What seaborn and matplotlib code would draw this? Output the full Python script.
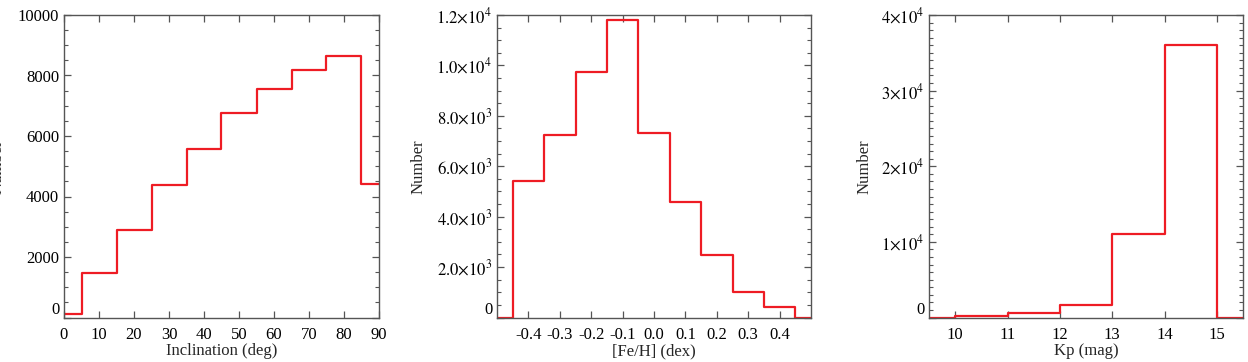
import numpy as np
import matplotlib
matplotlib.use("Agg")
import matplotlib.pyplot as plt
from matplotlib.ticker import FixedLocator, FixedFormatter, MultipleLocator
import pandas as pd
import seaborn as sns

# ---------------- data ----------------
incl_centers = [0, 10, 20, 30, 40, 50, 60, 70, 80, 90]
incl_counts = [100, 1480, 2900, 4380, 5580, 6750, 7550, 8180, 8650, 4400]

feh_centers = [-0.5, -0.4, -0.3, -0.2, -0.1, 0.0, 0.1, 0.2, 0.3, 0.4, 0.5]
feh_counts = [0, 5400, 7250, 9750, 11800, 7300, 4600, 2480, 1000, 400, 0]

kp_centers = [9.5, 10.5, 11.5, 12.5, 13.5, 14.5, 15.5]
kp_counts = [0, 250, 600, 1700, 11100, 36000, 0]

incl_xticks = [0, 10, 20, 30, 40, 50, 60, 70, 80, 90]
incl_yticks = [0, 2000, 4000, 6000, 8000, 10000]
incl_ylabels = ["0", "2000", "4000", "6000", "8000", "10000"]

feh_xticks = [-0.4, -0.3, -0.2, -0.1, 0.0, 0.1, 0.2, 0.3, 0.4]
feh_xlabels = ["-0.4", "-0.3", "-0.2", "-0.1", "0.0", "0.1", "0.2", "0.3", "0.4"]
feh_yticks = [0, 2000, 4000, 6000, 8000, 10000, 12000]
feh_ylabels = ["0", r"$2.0{\times}10^3$", r"$4.0{\times}10^3$", r"$6.0{\times}10^3$",
               r"$8.0{\times}10^3$", r"$1.0{\times}10^4$", r"$1.2{\times}10^4$"]

kp_xticks = [10, 11, 12, 13, 14, 15]
kp_yticks = [0, 10000, 20000, 30000, 40000]
kp_ylabels = ["0", r"$1{\times}10^4$", r"$2{\times}10^4$", r"$3{\times}10^4$", r"$4{\times}10^4$"]

# ---------------- style ----------------
sns.set_style("white")
plt.rcParams["font.family"] = ["Liberation Serif", "DejaVu Serif"]
plt.rcParams["mathtext.fontset"] = "stix"
plt.rcParams["axes.unicode_minus"] = False

LINE = "#ee1c24"
SPINE = "#555555"
FS = 12

fig = plt.figure(figsize=(12.48, 3.62), dpi=100)
W, H = 1248, 362
boxes = [(64, 379), (497, 811), (929, 1243)]
top_px, bot_px = 15, 317.5
axes = [fig.add_axes([l / W, (H - bot_px) / H, (r - l) / W, (bot_px - top_px) / H]) for l, r in boxes]


def edges_from(centers, width):
    c = np.asarray(centers, dtype=float)
    e = np.round(np.append(c - width / 2, c[-1] + width / 2), 6)
    return [float(v) for v in e]


def step_hist(ax, centers, counts, width):
    df = pd.DataFrame({"x": centers, "w": counts})
    sns.histplot(data=df, x="x", weights="w", bins=edges_from(centers, width),
                 element="step", fill=False, color=LINE, linewidth=1.6, ax=ax)


def style_axis(ax):
    for s in ax.spines.values():
        s.set_color(SPINE)
        s.set_linewidth(1.0)
        s.set_visible(True)
    ax.tick_params(which="both", direction="in", top=True, right=True,
                   bottom=True, left=True, colors=SPINE, labelcolor="black",
                   labelsize=FS)
    ax.tick_params(which="major", length=5, width=0.9)
    ax.tick_params(which="minor", length=2.8, width=0.8)
    ax.tick_params(axis="x", which="major", pad=7)
    ax.tick_params(axis="y", which="major", pad=3.5)


# Panel 1: inclination
ax = axes[0]
step_hist(ax, incl_centers, incl_counts, 10)
ax.set_xlim(0, 90)
ax.set_ylim(0, 10000)
ax.xaxis.set_major_locator(FixedLocator(incl_xticks))
ax.yaxis.set_major_locator(FixedLocator(incl_yticks))
ax.yaxis.set_major_formatter(FixedFormatter(incl_ylabels))
ax.yaxis.set_minor_locator(MultipleLocator(500))
ax.set_xlabel("Inclination (deg)", fontsize=FS)
ax.set_ylabel("Number", fontsize=FS)
ax.yaxis.set_label_coords(-0.186, 0.5)

# Panel 2: [Fe/H]
ax = axes[1]
step_hist(ax, feh_centers, feh_counts, 0.1)
ax.set_xlim(-0.5, 0.5)
ax.set_ylim(0, 12000)
ax.xaxis.set_major_locator(FixedLocator(feh_xticks))
ax.xaxis.set_major_formatter(FixedFormatter(feh_xlabels))
ax.yaxis.set_major_locator(FixedLocator(feh_yticks))
ax.yaxis.set_major_formatter(FixedFormatter(feh_ylabels))
ax.yaxis.set_minor_locator(MultipleLocator(500))
ax.set_xlabel("[Fe/H] (dex)", fontsize=FS)
ax.set_ylabel("Number", fontsize=FS)
ax.yaxis.set_label_coords(-0.226, 0.5)

# Panel 3: Kp
ax = axes[2]
step_hist(ax, kp_centers, kp_counts, 1.0)
ax.set_xlim(9.5, 15.5)
ax.set_ylim(0, 40000)
ax.xaxis.set_major_locator(FixedLocator(kp_xticks))
ax.yaxis.set_major_locator(FixedLocator(kp_yticks))
ax.yaxis.set_major_formatter(FixedFormatter(kp_ylabels))
ax.yaxis.set_minor_locator(MultipleLocator(1000))
ax.set_xlabel("Kp (mag)", fontsize=FS)
ax.set_ylabel("Number", fontsize=FS)
ax.yaxis.set_label_coords(-0.18, 0.5)

for ax in axes:
    style_axis(ax)
    ax.xaxis.set_label_coords(0.5, -0.085)
    fig.canvas.draw()
    lbls = ax.get_yticklabels()
    if lbls:
        lbls[0].set_va("bottom")

fig.savefig("out.png", dpi=100)
